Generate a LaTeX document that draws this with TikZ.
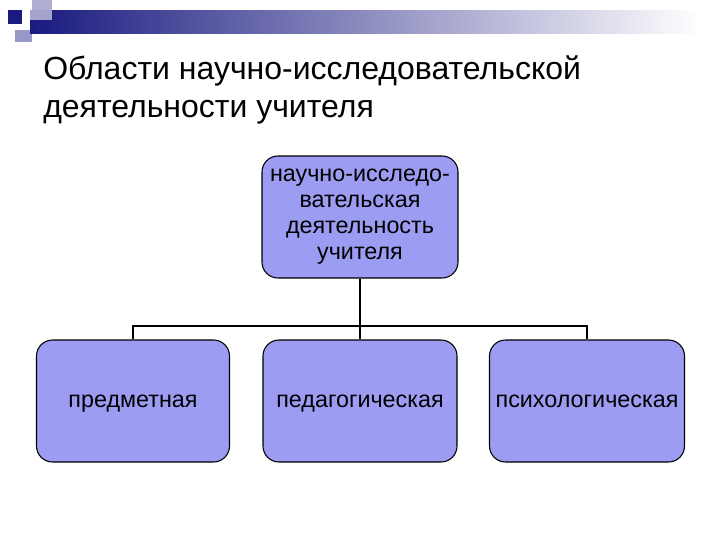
\documentclass[tikz,border=0pt]{standalone}
\usepackage{fontspec}
\setmainfont{Liberation Sans}
\begin{document}
\begin{tikzpicture}[x=0.75pt,y=-0.75pt,
  box/.style={draw=black,line width=0.8pt,fill=boxfill,rounded corners=12pt,align=center,font=\fontsize{17.5}{19.5}\selectfont,inner sep=0pt},
  conn/.style={draw=black,line width=1.5pt}]
\definecolor{boxfill}{HTML}{9C9CF2}
\definecolor{navy}{HTML}{1A1A80}
\useasboundingbox (0,0) rectangle (720,540);
% decoration
\fill[navy!35] (32,0) rectangle (52,20);
\fill[navy!45] (15,30) rectangle (32,42);
\shade[left color=navy,right color=white] (30,10) rectangle (700,33);
\fill[navy!40] (30,10) rectangle (52,20);
\fill[navy] (8,10) rectangle (22,24);
% title
\node[anchor=north west,align=left,font=\fontsize{24}{28.5}\selectfont,inner sep=0pt] (t) at (43,55) {Области научно-исследовательской\\деятельности учителя};
\node[box,minimum width=196*0.75pt,minimum height=122*0.75pt] (r) at (360,217) {научно-исследо-\\вательская\\деятельность\\учителя};
\node[box,minimum width=193*0.75pt,minimum height=122*0.75pt,text height=13pt,text depth=4pt] (a) at (133,401) {предметная};
\node[box,minimum width=194*0.75pt,minimum height=122*0.75pt,text height=13pt,text depth=4pt] (b) at (360,401) {педагогическая};
\node[box,minimum width=195*0.75pt,minimum height=122*0.75pt,text height=13pt,text depth=4pt] (c) at (587,401) {психологическая};
\coordinate (j) at (360,326);
\draw[conn] (r.south) -- (j);
\draw[conn] (a.north) |- (j) -| (c.north);
\draw[conn] (j) -- (b.north);
\end{tikzpicture}
\end{document}
